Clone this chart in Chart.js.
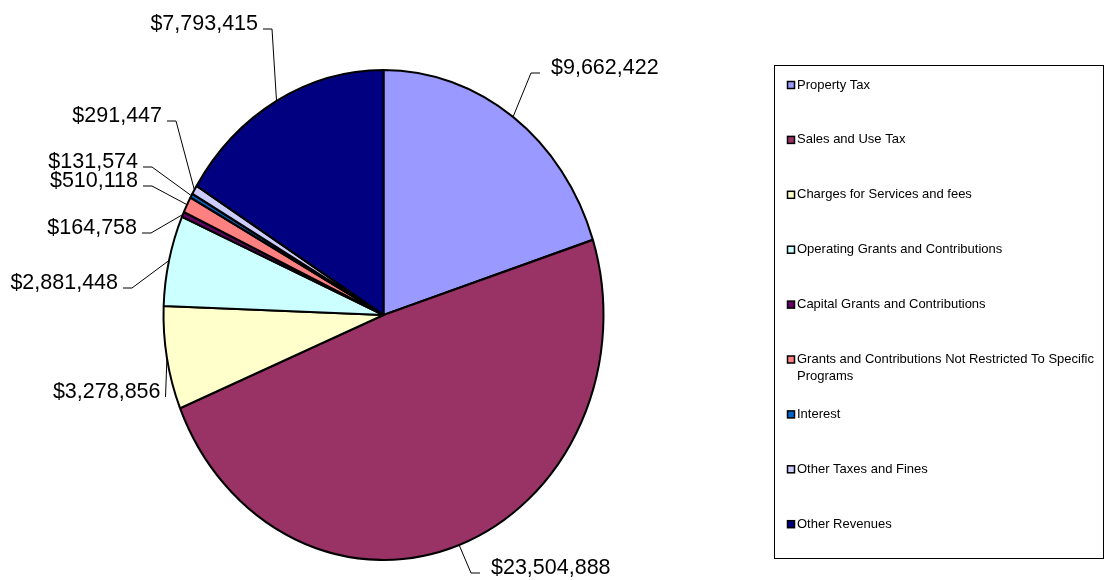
<!DOCTYPE html>
<html>
<head>
<meta charset="utf-8">
<script src="https://cdn.jsdelivr.net/npm/chart.js@4.4.1/dist/chart.umd.min.js"></script>
<style>
  html, body { margin: 0; padding: 0; background: #fff; }
  canvas { display: block; }
</style>
</head>
<body>
<canvas id="pie" width="1108" height="580"></canvas>
<script>
const categories = [
  'Property Tax',
  'Sales and Use Tax',
  'Charges for Services and fees',
  'Operating Grants and Contributions',
  'Capital Grants and Contributions',
  'Grants and Contributions Not Restricted To Specific Programs',
  'Interest',
  'Other Taxes and Fines',
  'Other Revenues'
];
const revenues = [9662422, 23504888, 3278856, 2881448, 164758, 510118, 131574, 291447, 7793415];
const sliceColors = ['#9999FF', '#993366', '#FFFFCC', '#CCFFFF', '#660066', '#FF8080', '#0066CC', '#CCCCFF', '#000080'];

// the pie in the original is a bit taller than wide
const stretchY = 245 / 220;

// outer end of each leader line and which side its text sits on
const labelSpots = [
  { x: 540, y: 73, side: 'right' },
  { x: 480, y: 573, side: 'right' },
  { x: 165.5, y: 397, side: 'left', stub: 0 },
  { x: 123, y: 288, side: 'left' },
  { x: 142, y: 233, side: 'left' },
  { x: 143, y: 186, side: 'left' },
  { x: 143, y: 167, side: 'left' },
  { x: 167, y: 121, side: 'left' },
  { x: 263, y: 29, side: 'left' }
];

const money = v => '$' + v.toLocaleString('en-US');

function wrapText(ctx, text, maxW) {
  const words = text.split(' ');
  const lines = [];
  let cur = '';
  words.forEach(w => {
    const t = cur ? cur + ' ' + w : w;
    if (ctx.measureText(t).width > maxW && cur) {
      lines.push(cur);
      cur = w;
    } else {
      cur = t;
    }
  });
  if (cur) lines.push(cur);
  return lines;
}

const ovalPie = {
  id: 'ovalPie',
  beforeDatasetsDraw(chart) {
    const arc = chart.getDatasetMeta(0).data[0];
    const ctx = chart.ctx;
    ctx.save();
    ctx.translate(arc.x, arc.y);
    ctx.scale(1, stretchY);
    ctx.translate(-arc.x, -arc.y);
  },
  afterDatasetsDraw(chart) {
    chart.ctx.restore();
  }
};

const leaderLabels = {
  id: 'leaderLabels',
  afterDraw(chart) {
    const ctx = chart.ctx;
    const meta = chart.getDatasetMeta(0);
    ctx.save();
    ctx.strokeStyle = '#000';
    ctx.lineWidth = 1;
    ctx.fillStyle = '#000';
    ctx.font = '21.5px "Liberation Sans", Arial, sans-serif';
    ctx.textBaseline = 'middle';
    meta.data.forEach((arc, i) => {
      const spot = labelSpots[i];
      const mid = (arc.startAngle + arc.endAngle) / 2;
      const ex = arc.x + arc.outerRadius * Math.cos(mid);
      const ey = arc.y + arc.outerRadius * Math.sin(mid) * stretchY;
      const stub = spot.stub === undefined ? 9 : spot.stub;
      const dir = spot.side === 'left' ? 1 : -1;
      ctx.beginPath();
      ctx.moveTo(spot.x, spot.y);
      ctx.lineTo(spot.x + dir * stub, spot.y);
      ctx.lineTo(ex, ey);
      ctx.stroke();
      const txt = money(chart.data.datasets[0].data[i]);
      if (spot.side === 'left') {
        ctx.textAlign = 'right';
        ctx.fillText(txt, spot.x - 5, spot.y - 5);
      } else {
        ctx.textAlign = 'left';
        ctx.fillText(txt, spot.x + 11, spot.y - 5);
      }
    });
    ctx.restore();
  }
};

const boxLegend = {
  id: 'boxLegend',
  afterDraw(chart) {
    const ctx = chart.ctx;
    const box = { left: 774, top: 65, width: 329, height: 493 };
    const colors = chart.data.datasets[0].backgroundColor;
    ctx.save();
    ctx.strokeStyle = '#000';
    ctx.lineWidth = 1;
    ctx.strokeRect(box.left + 0.5, box.top + 0.5, box.width, box.height);
    ctx.font = '13px "Liberation Sans", Arial, sans-serif';
    ctx.textBaseline = 'middle';
    ctx.textAlign = 'left';
    const textX = box.left + 23;
    const step = 54.9;
    chart.data.labels.forEach((lab, i) => {
      const y = box.top + 20 + i * step;
      ctx.fillStyle = colors[i];
      ctx.fillRect(box.left + 13.5, y - 3.5, 7, 7);
      ctx.lineWidth = 1.5;
      ctx.strokeStyle = '#000';
      ctx.strokeRect(box.left + 13.5, y - 3.5, 7, 7);
      ctx.fillStyle = '#000';
      const lines = wrapText(ctx, lab, box.left + box.width - textX - 2);
      lines.forEach((ln, k) => ctx.fillText(ln, textX, y + k * 17));
    });
    ctx.restore();
  }
};

new Chart(document.getElementById('pie').getContext('2d'), {
  type: 'pie',
  data: {
    labels: categories,
    datasets: [{
      data: revenues,
      backgroundColor: sliceColors,
      borderColor: '#000',
      borderWidth: 2,
      radius: 220
    }]
  },
  options: {
    responsive: false,
    animation: false,
    events: [],
    layout: { padding: { left: 0, right: 341, top: 50, bottom: 0 } },
    plugins: {
      legend: { display: false },
      tooltip: { enabled: false }
    }
  },
  plugins: [ovalPie, leaderLabels, boxLegend]
});
</script>
</body>
</html>
